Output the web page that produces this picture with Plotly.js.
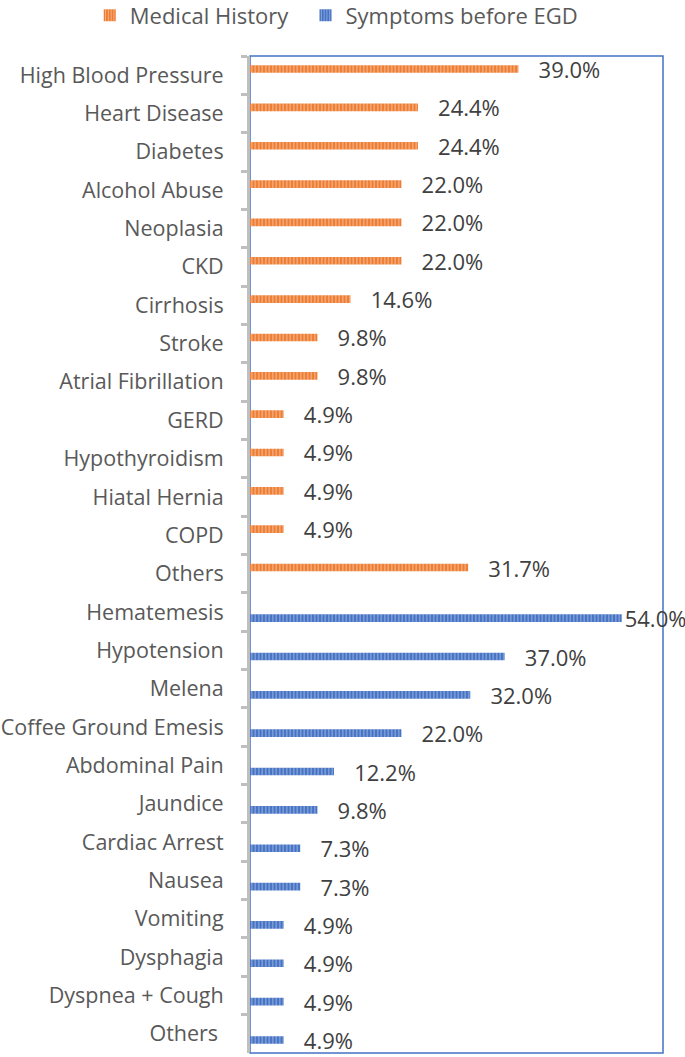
<!DOCTYPE html>
<html>
<head>
<meta charset="utf-8">
<script src="https://cdn.plot.ly/plotly-3.0.1.min.js"></script>
<style>
  html, body { margin: 0; padding: 0; background: #ffffff; }
  #chart { width: 685px; height: 1057px; }
</style>
</head>
<body>
<div id="chart"></div>
<script>
// ---- data ----
const historyCategories = ['High Blood Pressure', 'Heart Disease', 'Diabetes', 'Alcohol Abuse', 'Neoplasia', 'CKD',
  'Cirrhosis', 'Stroke', 'Atrial Fibrillation', 'GERD', 'Hypothyroidism', 'Hiatal Hernia', 'COPD', 'Others'];
const historyValues = [39.0, 24.4, 24.4, 22.0, 22.0, 22.0, 14.6, 9.8, 9.8, 4.9, 4.9, 4.9, 4.9, 31.7];

const symptomCategories = ['Hematemesis', 'Hypotension', 'Melena', 'Coffee Ground Emesis', 'Abdominal Pain', 'Jaundice',
  'Cardiac Arrest', 'Nausea', 'Vomiting', 'Dysphagia', 'Dyspnea + Cough', 'Others\u00a0'];
const symptomValues = [54.0, 37.0, 32.0, 22.0, 12.2, 9.8, 7.3, 7.3, 4.9, 4.9, 4.9, 4.9];

const seriesNames = ['Medical History', 'Symptoms before EGD'];

// ---- helpers ----
const pad = '\u00a0\u00a0\u00a0';
function labels(vals) {
  return vals.map(v => (v >= 50 ? '' : pad) + v.toFixed(1) + '%');
}
const allCategories = historyCategories.concat(symptomCategories);

const common = {
  type: 'bar',
  orientation: 'h',
  width: 0.2,
  textposition: 'outside',
  constraintext: 'none',
  cliponaxis: false,
  textfont: { family: 'Open Sans, sans-serif', size: 22, color: '#404040' },
  hoverinfo: 'skip'
};

const traces = [
  Object.assign({}, common, {
    name: seriesNames[0],
    legend: 'legend',
    y: historyCategories,
    x: historyValues,
    text: labels(historyValues),
    offset: -0.26,
    marker: {
      color: '#ED7D31',
      line: { width: 0 },
      pattern: { shape: '|', size: 3.5, solidity: 0.35, fgcolor: '#F6B38A', bgcolor: '#ED7D31' }
    }
  }),
  Object.assign({}, common, {
    name: seriesNames[1],
    legend: 'legend2',
    y: symptomCategories,
    x: symptomValues,
    text: labels(symptomValues),
    offset: 0.06,
    marker: {
      color: '#4472C4',
      line: { width: 0 },
      pattern: { shape: '|', size: 3.5, solidity: 0.35, fgcolor: '#8FAADC', bgcolor: '#4472C4' }
    }
  })
];

const legendFont = { family: 'Open Sans, sans-serif', size: 22, color: '#595959' };

const layout = {
  width: 685,
  height: 1057,
  margin: { l: 250, r: 22, t: 56, b: 4 },
  paper_bgcolor: '#ffffff',
  plot_bgcolor: '#ffffff',
  barmode: 'overlay',
  showlegend: true,
  legend: {
    orientation: 'h',
    xref: 'container', yref: 'container',
    x: 0.131, xanchor: 'left',
    y: 0.9855, yanchor: 'middle',
    font: legendFont,
    itemclick: false
  },
  legend2: {
    orientation: 'h',
    xref: 'container', yref: 'container',
    x: 0.446, xanchor: 'left',
    y: 0.9855, yanchor: 'middle',
    font: legendFont,
    itemclick: false
  },
  xaxis: {
    range: [0, 60],
    showgrid: false,
    zeroline: false,
    showticklabels: false,
    ticks: '',
    showline: false,
    fixedrange: true
  },
  yaxis: {
    type: 'category',
    categoryorder: 'array',
    categoryarray: allCategories,
    autorange: 'reversed',
    showgrid: false,
    zeroline: false,
    showline: true,
    linecolor: '#BFBFBF',
    linewidth: 3,
    ticks: 'outside',
    tickson: 'boundaries',
    ticklen: 6,
    tickwidth: 3,
    tickcolor: '#BFBFBF',
    ticklabelstandoff: 19,
    tickfont: { family: 'Open Sans, sans-serif', size: 21.5, color: '#595959' },
    automargin: false,
    fixedrange: true
  },
  shapes: [{
    type: 'rect', xref: 'paper', yref: 'paper',
    x0: 0, x1: 1, y0: 0, y1: 1,
    line: { color: '#4472C4', width: 1.5 },
    layer: 'below'
  }]
};

Plotly.newPlot('chart', traces, layout, { staticPlot: true, displayModeBar: false });
</script>
</body>
</html>
